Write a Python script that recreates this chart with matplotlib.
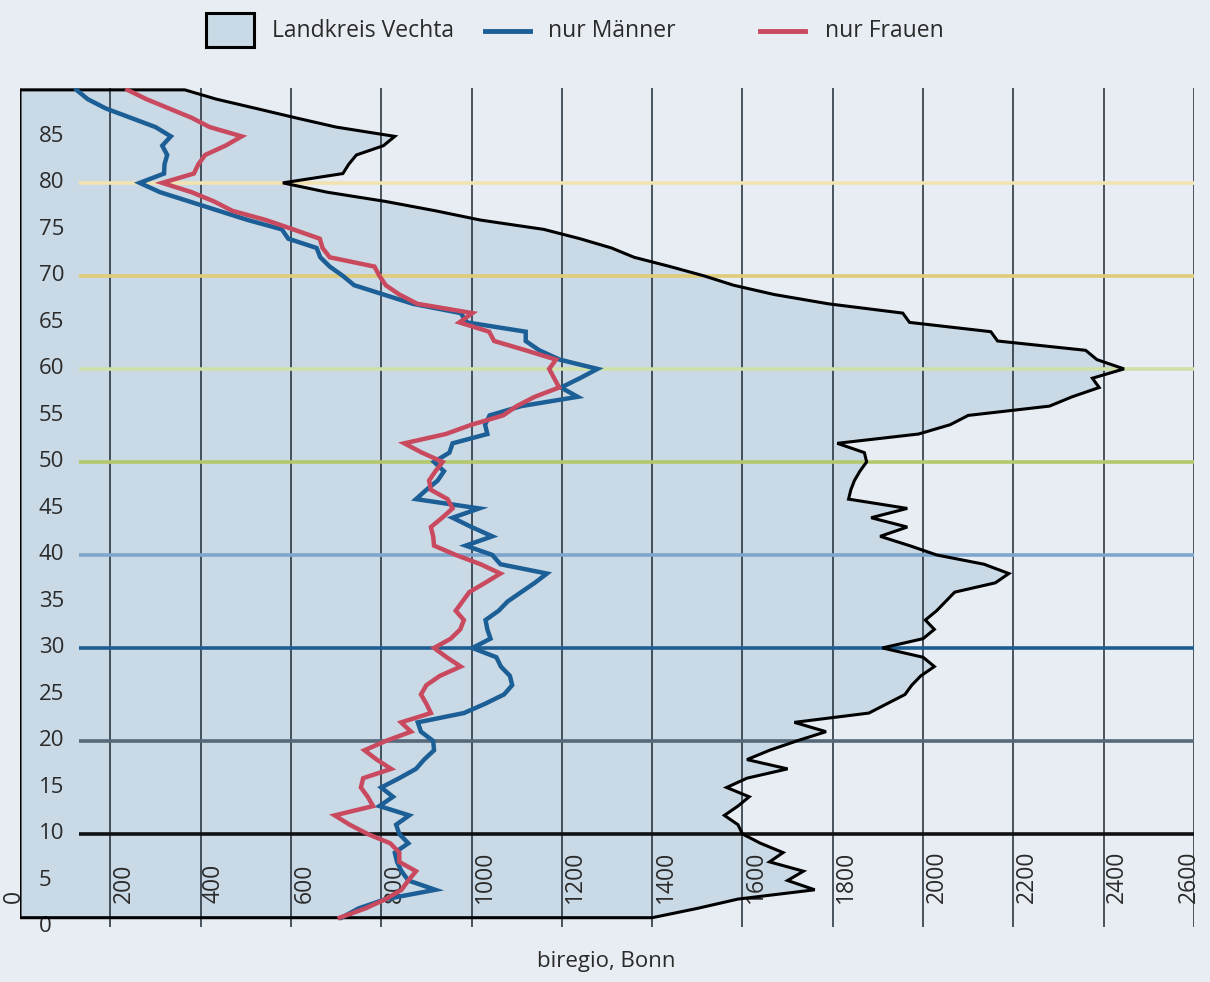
import numpy as np
import matplotlib.pyplot as plt
from matplotlib.patches import Rectangle

plt.rcParams['font.family'] = ['Open Sans', 'DejaVu Sans']

# ---------------------------------------------------------
# Data
# ---------------------------------------------------------
ages = np.arange(1, 91)

landkreis = [1400, 1500, 1590, 1760, 1700, 1735, 1660, 1690, 1640, 1600,
             1590, 1560, 1590, 1615, 1565, 1610, 1700, 1610, 1660, 1720,
             1785, 1715, 1880, 1920, 1960, 1975, 1995, 2025, 2000, 1910,
             2000, 2025, 2005, 2030, 2050, 2070, 2160, 2190, 2135, 2030,
             1970, 1905, 1965, 1885, 1965, 1835, 1840, 1848, 1860, 1875,
             1870, 1810, 1990, 2060, 2100, 2280, 2330, 2390, 2375, 2445,
             2385, 2360, 2165, 2150, 1970, 1955, 1790, 1670, 1580, 1515,
             1440, 1360, 1310, 1240, 1160, 1020, 920, 810, 680, 582,
             715, 728, 745, 805, 830, 700, 610, 523, 435, 365]

maenner = [712, 750, 810, 920, 860, 845, 835, 830, 860, 840,
           833, 862, 796, 826, 800, 840, 877, 895, 917, 915,
           888, 881, 983, 1030, 1072, 1090, 1085, 1065, 1055, 1002,
           1042, 1035, 1031, 1060, 1080, 1110, 1140, 1167, 1064, 1046,
           987, 1046, 1000, 958, 1017, 877, 900, 925, 939, 917,
           951, 958, 1035, 1030, 1040, 1110, 1235, 1198, 1240, 1279,
           1195, 1150, 1120, 1120, 990, 976, 870, 805, 740, 715,
           686, 665, 657, 594, 580, 505, 440, 375, 310, 265,
           319, 320, 326, 315, 334, 300, 245, 190, 150, 125]

frauen = [708, 765, 810, 845, 860, 877, 840, 840, 820, 770,
          730, 697, 782, 770, 755, 760, 822, 790, 763, 810,
          866, 844, 910, 900, 888, 900, 930, 976, 945, 917,
          954, 975, 983, 965, 980, 995, 1030, 1064, 1020, 965,
          917, 915, 910, 935, 958, 947, 910, 906, 920, 936,
          890, 851, 943, 1000, 1070, 1100, 1140, 1194, 1183, 1172,
          1187, 1120, 1050, 1039, 973, 1002, 880, 840, 810, 796,
          785, 686, 670, 664, 605, 545, 470, 430, 380, 315,
          385, 395, 410, 455, 491, 420, 380, 330, 280, 238]

x_ticks = np.arange(200, 2601, 200)
x_labels = [str(v) for v in x_ticks]
y_ticks = np.arange(0, 86, 5)

band_ages = [10, 20, 30, 40, 50, 60, 70, 80]
band_colors = ['#111111', '#56697a', '#1d5d92', '#7ea6cc',
               '#b2c86a', '#cfe0a8', '#e0cc78', '#f3e3b0']

BG = '#e8edf3'
FILL = '#c9d9e5'
BLUE = '#1c5f96'
RED = '#c9495f'
TXT = '#2a2a2a'

# ---------------------------------------------------------
# Figure
# ---------------------------------------------------------
fig = plt.figure(figsize=(12.1, 9.82), dpi=100)
fig.patch.set_facecolor(BG)
ax = fig.add_axes([20 / 1210, 1 - 927 / 982, 1174 / 1210, 839 / 982])
ax.set_facecolor(BG)
ax.set_xlim(0, 2600)
ax.set_ylim(0, 90.2)
for s in ax.spines.values():
    s.set_visible(False)
ax.set_xticks([])
ax.set_yticks([])

poly_x = [0] + landkreis + [0]
poly_y = [ages[0]] + list(ages) + [ages[-1]]
ax.fill(poly_x, poly_y, facecolor=FILL, edgecolor='none', zorder=1)

for v in x_ticks:
    ax.axvline(v, color='#1e2a36', lw=1.1, zorder=2)

for a, c in zip(band_ages, band_colors):
    ax.plot([130, 2600], [a, a], color=c, lw=2.6, zorder=3, solid_capstyle='butt')

ax.fill(poly_x, poly_y, facecolor='none', edgecolor='black', lw=2.2,
        joinstyle='miter', zorder=4)

# axis labels inside the plot
for v, lab in zip(x_ticks, x_labels):
    xpos, ha = (v + 3, 'left') if v < 2600 else (v + 15, 'right')
    ax.text(xpos, 2.6, lab, rotation=90, ha=ha, va='bottom',
            fontsize=16.5, fontweight='medium', color=TXT, zorder=3.5)
ax.text(-40, 2.6, '0', rotation=90, ha='left', va='bottom',
        fontsize=16.5, fontweight='medium', color=TXT, clip_on=False)
for a in y_ticks:
    ax.text(42, a, str(a), ha='left', va='center', fontsize=16,
            fontweight='medium', color=TXT, zorder=3.5)

ax.plot(maenner, ages, color=BLUE, lw=3.2, zorder=5, solid_joinstyle='miter')
ax.plot(frauen, ages, color=RED, lw=3.2, zorder=6, solid_joinstyle='miter')

# ---------------------------------------------------------
# Legend and source (overlay in pixel units)
# ---------------------------------------------------------
ov = fig.add_axes([0, 0, 1, 1])
ov.set_xlim(0, 1210)
ov.set_ylim(982, 0)
ov.axis('off')
ov.add_patch(Rectangle((206, 13), 48, 34, facecolor=FILL, edgecolor='black', lw=2.2))
ov.text(272, 31, 'Landkreis Vechta', ha='left', va='center', fontsize=16.5,
        fontweight='medium', color=TXT)
ov.plot([485, 530], [31, 31], color=BLUE, lw=3.5)
ov.text(548, 31, 'nur Männer', ha='left', va='center', fontsize=16.5,
        fontweight='medium', color=TXT)
ov.plot([760, 805], [31, 31], color=RED, lw=3.5)
ov.text(825, 31, 'nur Frauen', ha='left', va='center', fontsize=16.5,
        fontweight='medium', color=TXT)
ov.text(606, 962, 'biregio, Bonn', ha='center', va='center', fontsize=16,
        fontweight='medium', color=TXT)

fig.savefig('out.png', dpi=100, facecolor=BG)
